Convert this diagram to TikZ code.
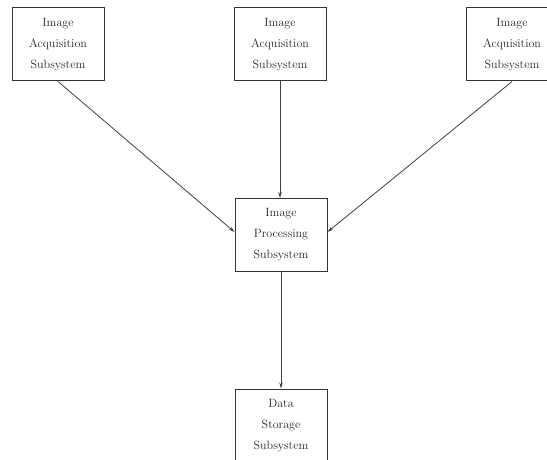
\documentclass[tikz,border=0pt]{standalone}
\usetikzlibrary{arrows.meta}
\begin{document}
\begin{tikzpicture}[x=1pt,y=1pt,
  subsys/.style={draw=black!80, line width=1pt, text=black!85,
    minimum width=92pt, minimum height=73pt, inner sep=0pt, align=center,
    font=\fontsize{12}{21}\selectfont},
  flow/.style={draw=black!75, line width=0.8pt,
    -{Stealth[length=6pt,width=3.5pt]}}]
  \useasboundingbox (0,0) rectangle (547,-460);
  \clip (0,0) rectangle (547,-460);

  % acquisition subsystems along the top
  \node[subsys] (acqA) at (58,-44.5)  {Image\\Acquisition\\Subsystem};
  \node[subsys] (acqB) at (280,-44.5) {Image\\Acquisition\\Subsystem};
  \node[subsys] (acqC) at (512,-44.5) {Image\\Acquisition\\Subsystem};

  % processing and storage
  \node[subsys] (proc)  at (281,-235)   {Image\\Processing\\Subsystem};
  \node[subsys] (store) at (281,-425.5) {Data\\Storage\\Subsystem};

  % connectors
  \draw[flow] (acqA.south) -- ([yshift=3pt]proc.west);
  \draw[flow] (acqB.south) -- (acqB.south |- proc.north);
  \draw[flow] (acqC.south) -- ([yshift=3pt]proc.east);
  \draw[flow] (proc.south) -- (store.north);
\end{tikzpicture}
\end{document}
